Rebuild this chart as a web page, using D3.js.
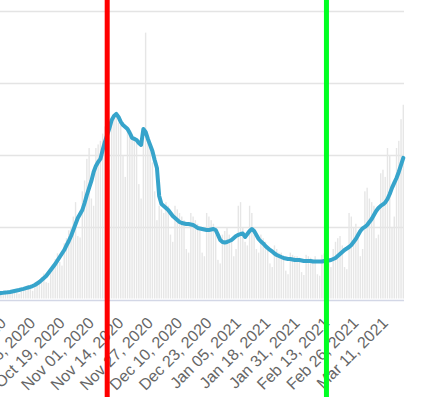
<!DOCTYPE html>
<html>
<head>
<meta charset="utf-8">
<script src="https://cdn.jsdelivr.net/npm/d3@7"></script>
<style>
  html, body { margin: 0; padding: 0; background: #fff; overflow: hidden; }
  svg { display: block; }
</style>
</head>
<body>
<div id="chart"></div>
<script>
// first day of the series, one value per day after that
var startDay = new Date(2020, 8, 17);

// daily counts (grey bars)
var dailyValues = [
  95, 120, 70, 60, 110, 130, 100,
  125, 140, 95, 80, 150, 165, 170,
  200, 150, 120, 210, 240, 260, 310,
  360, 240, 230, 420, 480, 560, 640,
  520, 470, 780, 850, 960, 1000, 1150,
  1350, 880, 860, 1500, 1650, 1950, 2100,
  1400, 1300, 2100, 2150, 2200, 2300, 2400,
  1900, 1800, 2500, 2550, 2600, 2450, 2500,
  2000, 1700, 2400, 2350, 2300, 2250, 2200,
  1600, 1400, 2300, 3700, 2200, 2100, 1900,
  1500, 1100, 1300, 1250, 1200, 1350, 1300,
  900, 800, 1300, 1250, 1200, 1150, 1100,
  700, 650, 1200, 1150, 1100, 1050, 1000,
  650, 600, 1200, 1150, 1100, 1050, 900,
  550, 500, 900, 950, 1000, 900, 850,
  600, 700, 1300, 1350, 1000, 800, 750,
  1300, 1200, 900, 700, 650, 900, 850,
  800, 700, 500, 450, 750, 700, 650,
  650, 600, 400, 350, 650, 620, 600,
  600, 580, 380, 340, 620, 600, 580,
  560, 600, 350, 330, 620, 640, 650,
  500, 450, 700, 800, 850, 880, 750,
  450, 420, 1200, 1150, 1000, 1050, 900,
  600, 700, 1500, 1550, 1400, 1350, 1300,
  850, 900, 1750, 1800, 1700, 2100, 2000,
  1000, 1150, 2100, 2200, 2500, 2700
];

// rolling average (blue line)
var averageValues = [
  83, 86, 90, 93, 97, 100, 104,
  111, 118, 125, 132, 140, 148, 157,
  166, 176, 187, 201, 222, 243, 270,
  298, 326, 368, 409, 451, 492, 541,
  589, 638, 686, 749, 811, 881, 964,
  1047, 1130, 1186, 1241, 1338, 1449, 1547,
  1644, 1768, 1852, 1907, 1949, 2074, 2185,
  2282, 2379, 2490, 2545, 2573, 2531, 2462,
  2420, 2393, 2365, 2309, 2240, 2226, 2212,
  2171, 2143, 2365, 2323, 2226, 2143, 2060,
  1935, 1824, 1435, 1324, 1297, 1269, 1241,
  1200, 1158, 1130, 1103, 1075, 1061, 1054,
  1047, 1047, 1040, 1033, 1013, 992, 985,
  978, 971, 964, 964, 971, 978, 964,
  895, 825, 798, 791, 798, 811, 825,
  853, 881, 895, 908, 915, 867, 908,
  950, 978, 950, 895, 839, 804, 777,
  742, 714, 687, 666, 638, 617, 603,
  589, 576, 569, 562, 562, 555, 548,
  548, 548, 541, 534, 534, 534, 534,
  527, 527, 527, 527, 527, 534, 534,
  541, 548, 562, 576, 603, 631, 659,
  687, 707, 728, 756, 798, 839, 895,
  950, 985, 1006, 1033, 1075, 1117, 1172,
  1228, 1269, 1297, 1318, 1345, 1394, 1463,
  1547, 1616, 1685, 1768, 1866, 1963
];

// tick labels on the x axis
var tickLabels = [
  "Sep 23, 2020", "Oct 06, 2020", "Oct 19, 2020", "Nov 01, 2020", "Nov 14, 2020",
  "Nov 27, 2020", "Dec 10, 2020", "Dec 23, 2020", "Jan 05, 2021", "Jan 18, 2021",
  "Jan 31, 2021", "Feb 13, 2021", "Feb 26, 2021", "Mar 11, 2021"
];
var tickDates = [
  new Date(2020, 8, 23), new Date(2020, 9, 6), new Date(2020, 9, 19), new Date(2020, 10, 1),
  new Date(2020, 10, 14), new Date(2020, 10, 27), new Date(2020, 11, 10), new Date(2020, 11, 23),
  new Date(2021, 0, 5), new Date(2021, 0, 18), new Date(2021, 0, 31), new Date(2021, 1, 13),
  new Date(2021, 1, 26), new Date(2021, 2, 11)
];

// y grid values
var gridValues = [0, 1000, 2000, 3000, 4000];

// marker lines
var markerDates = [new Date(2020, 10, 5), new Date(2021, 1, 10)];
var markerColors = ["#ff0000", "#00ff22"];

var width = 444, height = 397;

var data = dailyValues.map(function(v, i) {
  return { date: d3.timeDay.offset(startDay, i), value: v, avg: averageValues[i] };
});

var x = d3.scaleTime()
          .domain([new Date(2020, 8, 23), new Date(2021, 2, 11)])
          .range([10, 392]);

var y = d3.scaleLinear()
          .domain([0, 4000])
          .range([299.5, 11]);

var svg = d3.select("#chart").append("svg")
    .attr("width", width)
    .attr("height", height);

// horizontal grid
svg.append("g")
    .selectAll("line")
    .data(gridValues)
    .enter().append("line")
    .attr("x1", -10)
    .attr("x2", 404)
    .attr("y1", function(d) { return Math.round(y(d)) + 0.5; })
    .attr("y2", function(d) { return Math.round(y(d)) + 0.5; })
    .attr("stroke", function(d) { return d === 0 ? "#d3d7e6" : "#e4e4e4"; })
    .attr("stroke-width", function(d) { return d === 0 ? 1.5 : 1.3; });

// daily bars
svg.append("g")
    .selectAll("rect")
    .data(data)
    .enter().append("rect")
    .attr("x", function(d) { return x(d.date) - 0.7; })
    .attr("width", 1.4)
    .attr("y", function(d) { return y(d.value); })
    .attr("height", function(d) { return y(0) - 1 - y(d.value); })
    .attr("fill", "#e6e6e6");

// average line
var line = d3.line()
    .x(function(d) { return x(d.date); })
    .y(function(d) { return y(d.avg); });

svg.append("path")
    .datum(data)
    .attr("fill", "none")
    .attr("stroke", "#37a4cb")
    .attr("stroke-width", 4)
    .attr("stroke-linejoin", "round")
    .attr("stroke-linecap", "round")
    .attr("d", line);

// x labels, rotated
svg.append("g")
    .selectAll("text")
    .data(tickDates)
    .enter().append("text")
    .attr("transform", function(d) {
      return "translate(" + (x(d) - 3) + ",324) rotate(-45)";
    })
    .attr("text-anchor", "end")
    .attr("font-family", "Liberation Sans, Arial, sans-serif")
    .attr("font-size", "16px")
    .attr("fill", "#666")
    .text(function(d, i) { return tickLabels[i]; });

// vertical markers
svg.append("g")
    .selectAll("rect")
    .data(markerDates)
    .enter().append("rect")
    .attr("x", function(d) { return x(d) - 2.5; })
    .attr("width", 5)
    .attr("y", 0)
    .attr("height", height)
    .attr("fill", function(d, i) { return markerColors[i]; });
</script>
</body>
</html>
